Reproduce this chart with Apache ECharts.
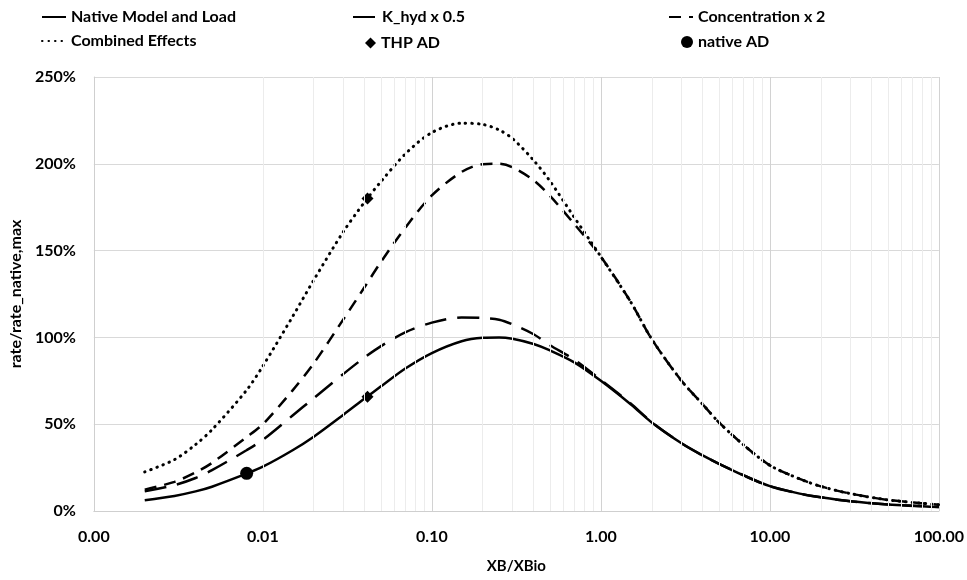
<!DOCTYPE html>
<html>
<head>
<meta charset="utf-8">
<script src="https://cdn.jsdelivr.net/npm/echarts@6/dist/echarts.min.js"></script>
<style>
html,body{margin:0;padding:0;background:#fff;}
#c{width:967px;height:580px;}
</style>
</head>
<body>
<div id="c"></div>
<script>
// x values (XB/XBio)
var xs = [0.002,0.003,0.004,0.005,0.008,0.01,0.015,0.02,0.03,0.04,0.05,0.07,0.1,0.15,0.2,0.25,0.3,0.4,0.5,0.7,1,1.5,2,3,4,5,7,10,15,20,30,50,100];
// rate / rate_native,max in %
var nativeModel = [6.2,8.7,11.3,14,21.5,25.5,35,42.8,55.5,64.8,71.8,82.2,91,97.8,99.8,100,99.2,96.2,92.5,85.5,75,61.5,51,39,32,27.2,20.5,14.3,10,7.9,5.6,3.8,2.3];
var kHyd       = [11.3,14.9,19,23.5,35,41,55,65,79,88.5,95,103,108.5,111.5,111.2,110.2,107.5,101.8,95.5,87,75.5,62,51.2,39,32,27.2,20.5,14.3,10,7.9,5.6,3.8,2.3];
var concX2     = [12.3,16.8,22.2,27.7,42.5,50,69.5,85,110.5,129,143.5,163.5,181.8,195.3,199.8,200,198,190.5,181.5,165,146.5,120.5,99,75,61.5,51,38,26.3,18.5,14.2,10,6.4,3.6];
var combined   = [22.5,29.6,38.3,46.8,69.5,83.5,112,133,161,178,189.8,205.9,218,223.4,222.7,219.5,214.5,202,190,168.8,146.5,120.5,99,75,61.5,51,38,26.3,18.5,14.2,10,6.4,3.6];
// marker points
var thpAD_x = [0.0416, 0.0416];
var thpAD_y = [65.8, 180];
var nativeAD_x = [0.00802];
var nativeAD_y = [21.7];
// axis ticks
var decades = [0.001,0.01,0.1,1,10];
var minorMult = [2,3,4,5,6,7,8,9];

function pairs(x, y){ return x.map(function(v,i){return [v, y[i]];}); }
var minorLines = [];
decades.forEach(function(d){ minorMult.forEach(function(m){ minorLines.push({xAxis: +(d*m).toPrecision(3)}); }); });

var FONT = 'Lato';
var chart = echarts.init(document.getElementById('c'), null, {renderer:'canvas'});
var legendText = {fontFamily:FONT, fontWeight:'bold', fontSize:16, color:'#000'};
function lgLine(name, left, top){
  return {data:[name], left:left, top:top, itemWidth:24, itemHeight:12, textStyle:legendText, selectedMode:false, padding:0,
    itemStyle:{color:'rgba(0,0,0,0)', borderColor:'rgba(0,0,0,0)', borderWidth:0}};
}
function lgSym(name, left, top, size){
  return {data:[name], left:left, top:top, itemWidth:size, itemHeight:size, textStyle:legendText, selectedMode:false, padding:0,
    itemGap:0, itemStyle:{color:'#000', opacity:1}};
}
chart.setOption({
  animation:false,
  backgroundColor:'#fff',
  legend:[
    lgLine('Native Model and Load', 41, 9),
    lgLine('K_hyd x 0.5', 352, 9),
    lgLine('Concentration x 2', 668, 9),
    lgLine('Combined Effects', 41, 33),
    lgSym('THP AD', 365, 35, 11),
    lgSym('native AD', 681, 34, 12)
  ],
  grid:{left:93, right:24, top:77, bottom:69, containLabel:false},
  xAxis:{
    type:'log', logBase:10, min:0.001, max:100,
    name:'XB/XBio', nameLocation:'middle', nameGap:48,
    nameTextStyle:{fontFamily:FONT, fontWeight:'bold', fontSize:15, color:'#000'},
    axisLine:{show:true, lineStyle:{color:'#cfcfcf', width:1}},
    axisTick:{show:false},
    axisLabel:{margin:18, fontFamily:FONT, fontWeight:'bold', fontSize:16, color:'#000',
      formatter:function(v){return Number(v).toFixed(2);}},
    splitLine:{show:true, lineStyle:{color:'#d2d2d2', width:1}}
  },
  yAxis:{
    type:'value', min:0, max:250, interval:50,
    name:'rate/rate_native,max', nameLocation:'middle', nameGap:66, nameRotate:90,
    nameTextStyle:{fontFamily:FONT, fontWeight:'bold', fontSize:16, color:'#000'},
    axisLine:{show:true, lineStyle:{color:'#cfcfcf', width:1}},
    axisTick:{show:false},
    axisLabel:{margin:18, fontFamily:FONT, fontWeight:'bold', fontSize:16, color:'#000', formatter:'{value}%'},
    splitLine:{show:true, lineStyle:{color:'#d9d9d9', width:1}}
  },
  series:[
    {name:'minor', type:'line', data:[], z:1, silent:true,
     markLine:{silent:true, symbol:['none','none'], label:{show:false},
       lineStyle:{color:'#ececec', width:1, type:'solid'}, data:minorLines, animation:false}},
    {name:'Native Model and Load', type:'line', data:pairs(xs,nativeModel), smooth:0.3, symbol:'none', z:3,
     lineStyle:{color:'#000', width:2.5, type:'solid'}, itemStyle:{color:'#000'}},
    {name:'K_hyd x 0.5', type:'line', data:pairs(xs,kHyd), smooth:0.3, symbol:'none', z:3,
     lineStyle:{color:'#000', width:2.5, type:[22,11]}, itemStyle:{color:'#000'}},
    {name:'Concentration x 2', type:'line', data:pairs(xs,concX2), smooth:0.3, symbol:'none', z:3,
     lineStyle:{color:'#000', width:2.5, type:[12,8]}, itemStyle:{color:'#000'}},
    {name:'Combined Effects', type:'line', data:pairs(xs,combined), smooth:0.3, symbol:'none', z:3,
     lineStyle:{color:'#000', width:3, type:[0.5,6], cap:'round'}, itemStyle:{color:'#000'}},
    {name:'THP AD', type:'scatter', data:pairs(thpAD_x,thpAD_y), symbol:'diamond', symbolSize:12, z:4,
     itemStyle:{color:'#000', opacity:1}},
    {name:'native AD', type:'scatter', data:pairs(nativeAD_x,nativeAD_y), symbol:'circle', symbolSize:13, z:4,
     itemStyle:{color:'#000', opacity:1}}
  ]
});
</script>
</body>
</html>
